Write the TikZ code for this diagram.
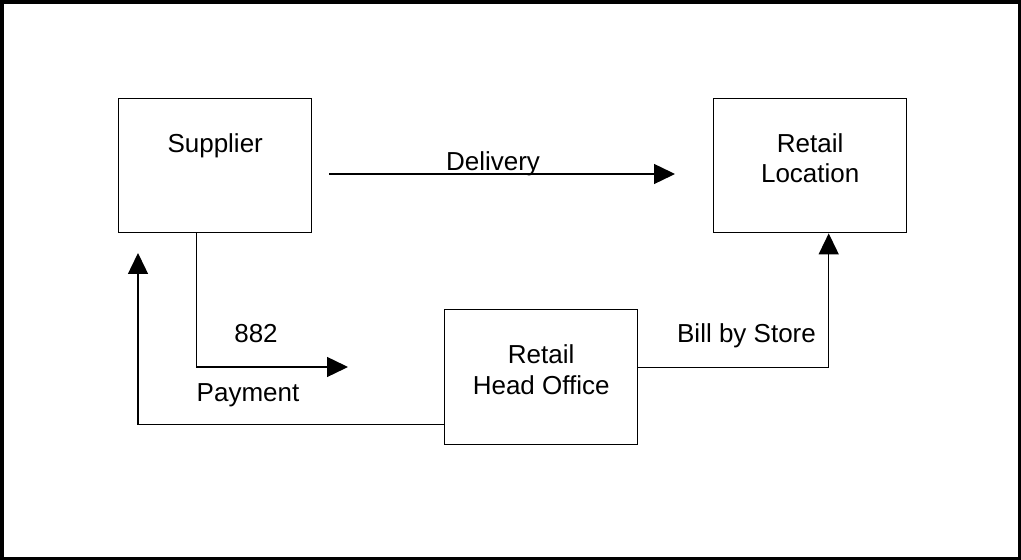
\documentclass[tikz,border=0pt]{standalone}
\usepackage{fontspec}
\setmainfont{Liberation Sans}
\usepackage{tikz}
\usetikzlibrary{arrows.meta,positioning,calc}
\definecolor{inkblack}{HTML}{000000}
\tikzset{
  box/.style={draw=inkblack,line width=0.7pt,fill=white,align=center,inner sep=0pt,minimum width=96.5pt,text height=26.7pt,text depth=40.3pt,anchor=north west,font=\fontsize{13pt}{15pt}\selectfont},
  twoline/.style={text height=42pt,text depth=25pt},
  lbl/.style={inner sep=0pt,anchor=base,font=\fontsize{13pt}{15pt}\selectfont},
  flow/.style={-{Triangle[length=10.5pt,width=10pt]},line width=0.7pt,draw=inkblack},
  outerframe/.style={draw=inkblack,line width=2pt}
}
\begin{document}
\begin{tikzpicture}[x=0.5pt,y=-0.5pt]
  \useasboundingbox (0,0) rectangle (1021,560);
  \draw[outerframe] (2,2) rectangle (1020,559);
  \node[box] (supplier) at (118,98) {Supplier};
  \node[box,twoline] (retail) at (713,98) {Retail\\Location};
  \node[box,twoline,text height=42.15pt,text depth=25.35pt] (headoffice) at (444,309) {Retail\\Head Office};
  \coordinate (delstart) at (329,174);
  \coordinate (delend) at (675,174);
  \coordinate (payend) at (348,367);
  \coordinate (rettip) at (138,253);
  \draw[flow] (delstart) -- (delend);
  \draw[flow] ([xshift=-9.25pt]supplier.south) |- (payend);
  \draw[flow] ([yshift=-23.75pt]headoffice.west) -| (rettip);
  \draw[flow] ([yshift=4.75pt]headoffice.east) -| ([xshift=9.25pt]retail.south);
  \node[lbl] (delivery) at (493,171) {Delivery};
  \node[lbl] (code) at (256,343) {882};
  \node[lbl] (payment) at (248,401) {Payment};
  \node[lbl] (billing) at (746.5,343) {Bill by Store};
\end{tikzpicture}
\end{document}
